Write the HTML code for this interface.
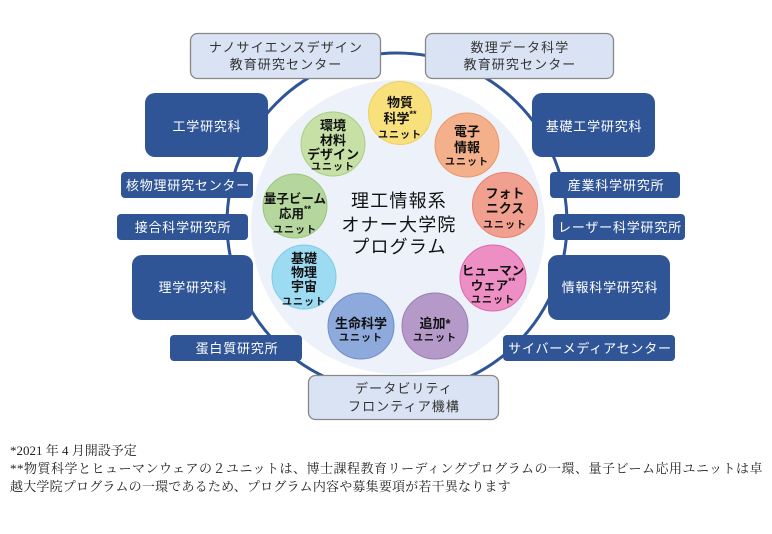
<!DOCTYPE html>
<html><head><meta charset="utf-8">
<style>
html,body{margin:0;padding:0;background:#fff;}
body{width:772px;height:534px;overflow:hidden;position:relative;}
svg{position:absolute;left:0;top:0;}
.s{font-family:"Liberation Sans","Noto Sans CJK JP",sans-serif;}
.u{font-weight:bold;fill:#111;text-anchor:middle;}
.wt{fill:#fff;font-size:13px;letter-spacing:0.8px;text-anchor:middle;}
.lt{fill:#333;font-size:13px;letter-spacing:1.1px;text-anchor:middle;}
.notes{position:absolute;left:10px;top:442px;font-family:"Liberation Serif","Noto Serif CJK JP",serif;font-size:13px;color:#222;line-height:18px;white-space:nowrap;}
.notes div{height:18px;}
</style></head><body>
<svg width="772" height="534" viewBox="0 0 772 534" class="s">
  <!-- outer ring -->
  <circle cx="397" cy="223" r="170" fill="none" stroke="#2f5597" stroke-width="3"/>
  <!-- inner disc -->
  <circle cx="398" cy="227" r="147" fill="#edf2fa"/>

  <!-- light boxes -->
  <rect x="190.5" y="33.5" width="190" height="45" rx="7" fill="#dae3f3" stroke="#878787" stroke-width="1.3"/>
  <text class="lt" x="286" y="52">ナノサイエンスデザイン</text>
  <text class="lt" x="286" y="69">教育研究センター</text>

  <rect x="425.5" y="33.5" width="188" height="45" rx="7" fill="#dae3f3" stroke="#878787" stroke-width="1.3"/>
  <text class="lt" x="520" y="52">数理データ科学</text>
  <text class="lt" x="520" y="69">教育研究センター</text>

  <rect x="308.5" y="375.5" width="190" height="44" rx="7" fill="#dae3f3" stroke="#878787" stroke-width="1.3"/>
  <text class="lt" x="404" y="393">データビリティ</text>
  <text class="lt" x="404" y="411">フロンティア機構</text>

  <!-- dark boxes left -->
  <rect x="145" y="93" width="123" height="64" rx="10" fill="#2f5597"/>
  <text class="wt" x="207" y="131">工学研究科</text>
  <rect x="121" y="172" width="132" height="26" rx="4" fill="#2f5597"/>
  <text class="wt" x="188" y="190">核物理研究センター</text>
  <rect x="117" y="214" width="131" height="26" rx="4" fill="#2f5597"/>
  <text class="wt" x="183" y="232">接合科学研究所</text>
  <rect x="132" y="255" width="121" height="65" rx="10" fill="#2f5597"/>
  <text class="wt" x="193" y="292">理学研究科</text>
  <rect x="170" y="335" width="132" height="26" rx="4" fill="#2f5597"/>
  <text class="wt" x="237" y="353">蛋白質研究所</text>

  <!-- dark boxes right -->
  <rect x="532" y="93" width="123" height="64" rx="10" fill="#2f5597"/>
  <text class="wt" x="594" y="131">基礎工学研究科</text>
  <rect x="550" y="172" width="130" height="26" rx="4" fill="#2f5597"/>
  <text class="wt" x="616" y="190">産業科学研究所</text>
  <rect x="553" y="214" width="132" height="26" rx="4" fill="#2f5597"/>
  <text class="wt" x="620" y="232">レーザー科学研究所</text>
  <rect x="548" y="255" width="122" height="65" rx="10" fill="#2f5597"/>
  <text class="wt" x="610" y="292">情報科学研究科</text>
  <rect x="503" y="335" width="172" height="26" rx="4" fill="#2f5597"/>
  <text class="wt" x="590" y="353">サイバーメディアセンター</text>

  <!-- unit circles -->
  <circle cx="400" cy="113" r="31.5" fill="#f8e07c" stroke="#f1cf5c" stroke-width="1"/>
  <text class="u" x="400" y="107" font-size="13">物質</text>
  <text class="u" x="400" y="123" font-size="13">科学<tspan font-size="9" dy="-6">**</tspan></text>
  <text class="u" x="400" y="138" font-size="10" letter-spacing="1">ユニット</text>

  <circle cx="467" cy="145" r="32" fill="#f3b08a" stroke="#eb9668" stroke-width="1"/>
  <text class="u" x="467" y="136" font-size="13">電子</text>
  <text class="u" x="467" y="152" font-size="13">情報</text>
  <text class="u" x="467" y="165" font-size="10" letter-spacing="1">ユニット</text>

  <circle cx="333" cy="144" r="32" fill="#c6e0a6" stroke="#a8cf84" stroke-width="1"/>
  <text class="u" x="333" y="130" font-size="13">環境</text>
  <text class="u" x="333" y="145" font-size="13">材料</text>
  <text class="u" x="333" y="159" font-size="13">デザイン</text>
  <text class="u" x="333" y="170" font-size="10" letter-spacing="1">ユニット</text>

  <circle cx="295" cy="206" r="32" fill="#b5d79e" stroke="#98c67a" stroke-width="1"/>
  <text class="u" x="295" y="203" font-size="12.5">量子ビーム</text>
  <text class="u" x="295" y="218" font-size="12.5">応用<tspan font-size="9" dy="-6">**</tspan></text>
  <text class="u" x="295" y="233" font-size="10" letter-spacing="1">ユニット</text>

  <circle cx="505" cy="205" r="32.5" fill="#f1a08f" stroke="#e5826e" stroke-width="1"/>
  <text class="u" x="505" y="198" font-size="13">フォト</text>
  <text class="u" x="505" y="213" font-size="13">ニクス</text>
  <text class="u" x="505" y="228" font-size="10" letter-spacing="1">ユニット</text>

  <circle cx="304" cy="277" r="32" fill="#9ddbf2" stroke="#7fcbe8" stroke-width="1"/>
  <text class="u" x="304" y="263" font-size="13">基礎</text>
  <text class="u" x="304" y="277" font-size="13">物理</text>
  <text class="u" x="304" y="291" font-size="13">宇宙</text>
  <text class="u" x="304" y="305" font-size="10" letter-spacing="1">ユニット</text>

  <circle cx="493" cy="278" r="33" fill="#ed8fc4" stroke="#e067a9" stroke-width="1"/>
  <text class="u" x="493" y="275" font-size="12.5">ヒューマン</text>
  <text class="u" x="493" y="290" font-size="12.5">ウェア<tspan font-size="9" dy="-6">**</tspan></text>
  <text class="u" x="493" y="303" font-size="10" letter-spacing="1">ユニット</text>

  <circle cx="361" cy="326" r="33" fill="#8ea9db" stroke="#6f8fca" stroke-width="1"/>
  <text class="u" x="361" y="328" font-size="13">生命科学</text>
  <text class="u" x="361" y="341" font-size="10" letter-spacing="1">ユニット</text>

  <circle cx="435" cy="326" r="33" fill="#b59ac9" stroke="#9c7db6" stroke-width="1"/>
  <text class="u" x="435" y="328" font-size="13">追加*</text>
  <text class="u" x="435" y="341" font-size="10" letter-spacing="1">ユニット</text>

  <!-- center title -->
  <text x="399" y="207" font-size="18" letter-spacing="1.2" text-anchor="middle" fill="#111">理工情報系</text>
  <text x="399" y="231" font-size="18" letter-spacing="1.2" text-anchor="middle" fill="#111">オナー大学院</text>
  <text x="399" y="253" font-size="18" letter-spacing="1.2" text-anchor="middle" fill="#111">プログラム</text>
</svg>
<div class="notes">
  <div>*2021 年 4 月開設予定</div>
  <div style="letter-spacing:0.5px">**物質科学とヒューマンウェアの２ユニットは、博士課程教育リーディングプログラムの一環、量子ビーム応用ユニットは卓</div>
  <div style="letter-spacing:0.2px">越大学院プログラムの一環であるため、プログラム内容や募集要項が若干異なります</div>
</div>
</body></html>
